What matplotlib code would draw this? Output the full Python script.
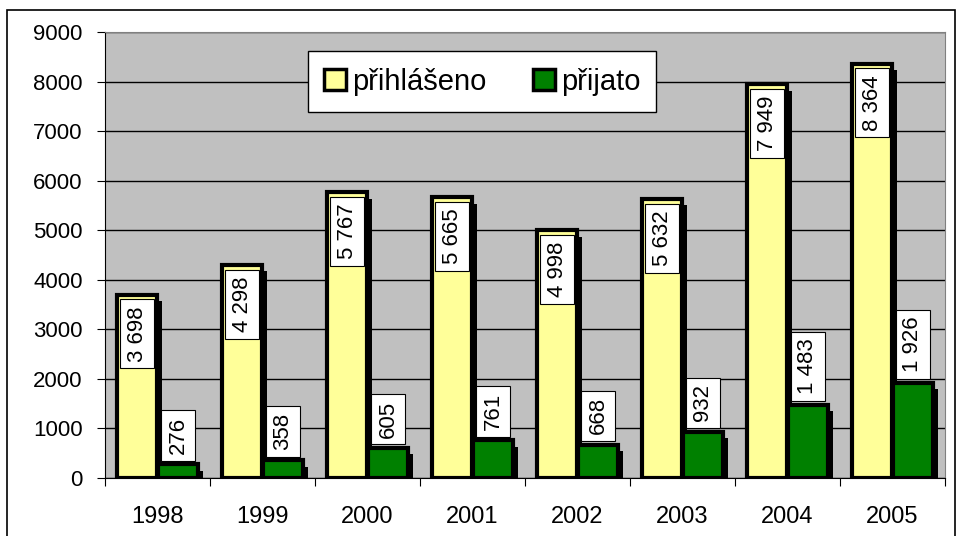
import numpy as np
import matplotlib.pyplot as plt
from matplotlib.patches import Patch, Rectangle

# data
years = ['1998', '1999', '2000', '2001', '2002', '2003', '2004', '2005']
prihlaseno = [3698, 4298, 5767, 5665, 4998, 5632, 7949, 8364]
prijato = [276, 358, 605, 761, 668, 932, 1483, 1926]

def fmt(v):
    return f'{v:,}'.replace(',', ' ')

plt.rcParams['font.family'] = ['Liberation Sans', 'DejaVu Sans']

fig = plt.figure(figsize=(9.58, 5.36), dpi=100)
ax = fig.add_axes([105/958, 1 - 478/536, 840/958, 446/536])
ax.set_facecolor('#c0c0c0')

# outer chart border
fig.patches.append(Rectangle((7/958, -0.05), 948/958, 1 - 10/536 + 0.05,
                             transform=fig.transFigure, fill=False,
                             edgecolor='black', linewidth=1.2, zorder=0))

x = np.arange(len(years))
w = 0.385
off_y, off_g = -0.195, 0.195
sx, sy = 0.05, 130

# shadows
ax.bar(x + off_y + sx, np.array(prihlaseno) - sy, w, color='black', zorder=2)
ax.bar(x + off_g + sx, np.array(prijato) - sy, w, color='black', zorder=2)

ax.bar(x + off_y, prihlaseno, w, color='#ffff99', edgecolor='black',
       linewidth=3, zorder=3, label='přihlášeno')
ax.bar(x + off_g, prijato, w, color='#008000', edgecolor='black',
       linewidth=3, zorder=3, label='přijato')

box = dict(boxstyle='square,pad=0.3', fc='white', ec='black', lw=0.8)
for i in range(len(years)):
    ax.text(x[i] + off_y, prihlaseno[i] - 230, fmt(prihlaseno[i]), rotation=90,
            ha='center', va='top', fontsize=16, bbox=box, zorder=5)
    ax.text(x[i] + off_g, prijato[i] + 210, fmt(prijato[i]), rotation=90,
            ha='center', va='bottom', fontsize=16, bbox=box, zorder=5)

ax.set_xlim(-0.5, len(years) - 0.5)
ax.set_ylim(0, 9000)
ax.set_yticks(np.arange(0, 9001, 1000))
ax.yaxis.grid(True, color='black', linewidth=1)
ax.set_axisbelow(True)

ax.set_xticks(np.arange(-0.5, len(years), 1))
ax.set_xticklabels([])
ax.set_xticks(x, minor=True)
ax.set_xticklabels(years, minor=True)
ax.tick_params(axis='x', which='major', length=6, direction='out')
ax.tick_params(axis='x', which='minor', length=0, pad=20, labelsize=17)
ax.tick_params(axis='y', length=6, labelsize=16, pad=10)

for s in ['top', 'right']:
    ax.spines[s].set_color('#808080')
for s in ['left', 'bottom']:
    ax.spines[s].set_color('black')

handles = [Patch(facecolor='#ffff99', edgecolor='black', linewidth=2.5, label='přihlášeno'),
           Patch(facecolor='#008000', edgecolor='black', linewidth=2.5, label='přijato')]
leg = ax.legend(handles=handles, loc='center', bbox_to_anchor=(0.449, 0.889),
                ncol=2, fontsize=21, frameon=True, fancybox=False,
                edgecolor='black', framealpha=1, handlelength=0.75,
                handleheight=0.75, handletextpad=0.2, columnspacing=1.6,
                borderpad=0.55, borderaxespad=0)
leg.get_frame().set_linewidth(1)

fig.savefig('out.png', dpi=100)
